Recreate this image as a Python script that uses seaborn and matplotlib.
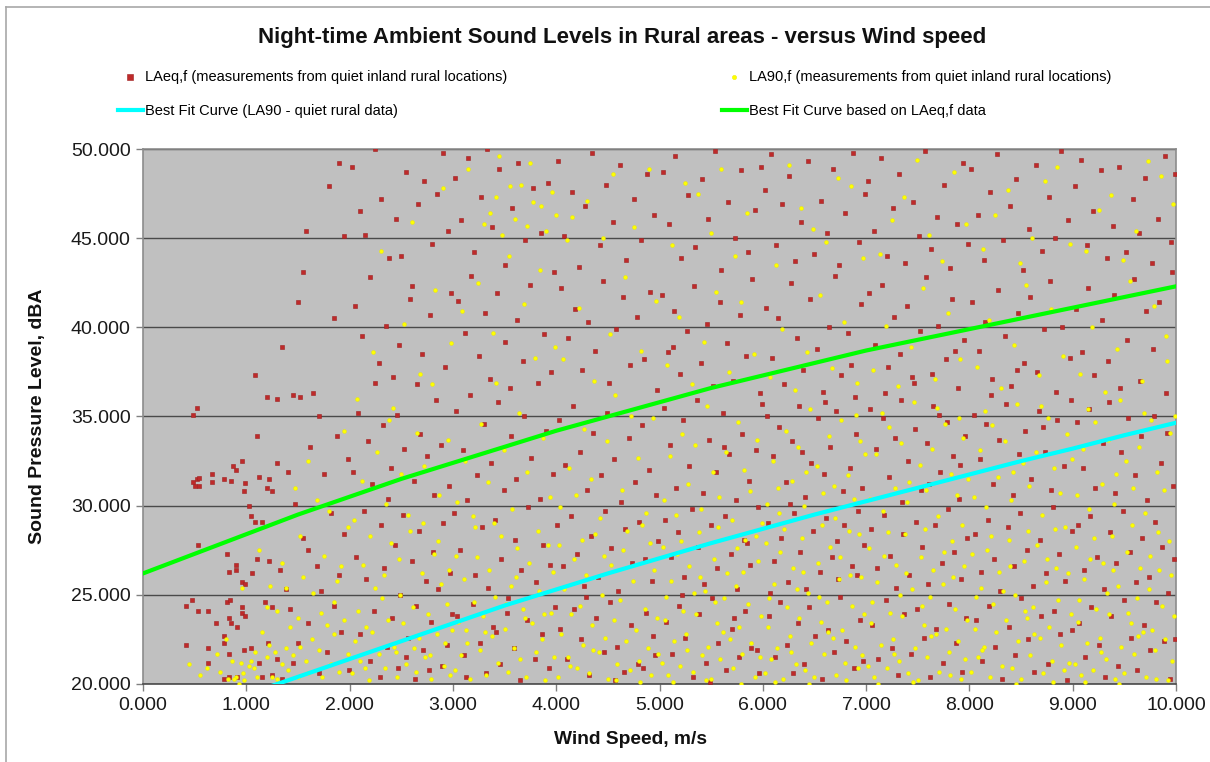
import matplotlib
matplotlib.use("Agg")
import matplotlib.pyplot as plt
from matplotlib.lines import Line2D
import seaborn as sns
import pandas as pd

# ---------------- data ----------------
title = "Night-time Ambient Sound Levels in Rural areas - versus Wind speed"
laeq_label = "LAeq,f (measurements from quiet inland rural locations)"
la90_label = "LA90,f (measurements from quiet inland rural locations)"
cyan_label = "Best Fit Curve (LA90 - quiet rural data)"
green_label = "Best Fit Curve based on LAeq,f data"
x_label = "Wind Speed, m/s"
y_label = "Sound Pressure Level, dBA"

x_ticks = [0, 1, 2, 3, 4, 5, 6, 7, 8, 9, 10]
y_ticks = [20, 25, 30, 35, 40, 45, 50]

# Best fit curves
green_wind = [0, 0.5, 1, 1.5, 2, 2.5, 3, 3.5, 4, 4.5, 5, 5.5, 6, 6.5, 7, 7.5, 8, 8.5, 9, 9.5, 10]
green_level = [26.2, 27.3, 28.4, 29.5, 30.5, 31.5, 32.4, 33.3, 34.2, 35.0, 35.8, 36.6, 37.3, 38.0,
               38.7, 39.3, 39.9, 40.5, 41.1, 41.7, 42.3]
cyan_wind = [1.0, 1.5, 2, 2.5, 3, 3.5, 4, 4.5, 5, 5.5, 6, 6.5, 7, 7.5, 8, 8.5, 9, 9.5, 10]
cyan_level = [19.4, 20.4, 21.4, 22.4, 23.4, 24.4, 25.3, 26.2, 27.05, 27.9, 28.7, 29.5, 30.25, 31.0,
              31.75, 32.5, 33.2, 33.95, 34.65]

# LAeq,f measurements (wind, level)
laeq_points = [
    (0.48, 35.1), (0.52, 35.5), (0.48, 31.3), (0.52, 31.5), (0.54, 31.55), (0.5, 31.1), (0.54, 31.1),
    (0.67, 31.8), (0.67, 31.3), (0.78, 31.5), (0.85, 31.4), (0.87, 32.2), (0.9, 32.0), (0.96, 32.5),
    (0.99, 31.25), (0.98, 30.8), (0.53, 27.8), (0.81, 27.3), (0.83, 26.3), (0.9, 26.7), (0.9, 26.4),
    (0.96, 25.7), (0.99, 25.6), (0.42, 24.4), (0.47, 24.7), (0.53, 24.1), (0.63, 24.1), (0.71, 23.4),
    (0.81, 24.6), (0.84, 24.7), (0.83, 23.7), (0.85, 23.4), (0.91, 23.2), (0.96, 24.3), (0.96, 24.0),
    (0.99, 23.8), (0.42, 22.2), (0.63, 22.0), (0.78, 22.7), (0.78, 22.3), (0.83, 21.7), (0.63, 21.2),
    (0.78, 20.3), (0.83, 20.4), (0.91, 20.4), (0.98, 21.9),
    (1.03, 30.0), (1.05, 29.4), (1.08, 29.1), (1.1, 33.9), (1.12, 31.6), (1.15, 29.1), (1.2, 31.0),
    (1.22, 31.5), (1.25, 30.8), (1.3, 32.4), (1.08, 37.3), (1.2, 36.1), (1.3, 36.0), (1.35, 38.9),
    (1.5, 41.4), (1.55, 43.1), (1.58, 45.4), (1.45, 36.2), (1.52, 36.1), (1.7, 35.0), (1.75, 31.8),
    (1.8, 47.9), (1.9, 49.2), (1.95, 45.1), (1.85, 40.5), (1.65, 36.3), (1.4, 31.9), (1.47, 30.1),
    (1.55, 28.2), (1.6, 27.5), (1.68, 26.6), (1.72, 25.2), (1.1, 27.0), (1.22, 26.9), (1.06, 26.2),
    (1.33, 26.4), (1.38, 25.3), (1.42, 24.2), (1.25, 24.3), (1.18, 24.6), (1.05, 22.0), (1.12, 21.2),
    (1.21, 22.3), (1.3, 21.4), (1.45, 21.2), (1.5, 22.3), (1.6, 23.4), (1.7, 20.6), (1.78, 21.8),
    (1.85, 24.4), (1.9, 26.1), (1.95, 28.4), (1.82, 29.6), (1.98, 32.6), (1.62, 33.3), (1.88, 33.9),
    (1.35, 20.3), (1.25, 20.5), (1.15, 20.4), (1.92, 22.9), (1.99, 20.8),
    (2.02, 49.0), (2.1, 46.5), (2.15, 45.2), (2.25, 50.0), (2.3, 47.2), (2.38, 43.9), (2.45, 46.1),
    (2.5, 44.0), (2.55, 48.7), (2.6, 42.3), (2.66, 46.9), (2.72, 48.2), (2.8, 44.7), (2.85, 47.5),
    (2.9, 49.8), (2.95, 45.4), (2.05, 41.2), (2.12, 39.5), (2.2, 42.8), (2.28, 38.0), (2.35, 40.1),
    (2.42, 37.2), (2.48, 39.0), (2.58, 41.6), (2.65, 36.8), (2.7, 38.5), (2.78, 40.7), (2.84, 35.9),
    (2.92, 37.8), (2.98, 41.9), (2.08, 35.2), (2.18, 33.6), (2.25, 36.9), (2.32, 34.5), (2.4, 32.1),
    (2.46, 35.1), (2.53, 33.2), (2.62, 31.4), (2.68, 34.0), (2.75, 32.8), (2.82, 30.6), (2.88, 33.4),
    (2.96, 31.1), (2.03, 31.9), (2.14, 29.7), (2.22, 31.2), (2.3, 28.9), (2.37, 30.4), (2.44, 27.8),
    (2.52, 29.5), (2.6, 26.9), (2.67, 28.6), (2.74, 25.8), (2.81, 27.4), (2.9, 29.0), (2.97, 26.2),
    (2.06, 27.1), (2.16, 25.9), (2.24, 24.1), (2.33, 26.5), (2.41, 23.7), (2.49, 25.0), (2.57, 22.6),
    (2.64, 24.4), (2.71, 21.9), (2.79, 23.5), (2.86, 25.3), (2.94, 22.2), (2.1, 22.8), (2.2, 21.3),
    (2.29, 20.4), (2.36, 22.1), (2.47, 20.9), (2.55, 21.5), (2.63, 20.3), (2.77, 20.8), (2.89, 21.0),
    (2.99, 23.9),
    (3.02, 48.4), (3.08, 46.0), (3.15, 49.5), (3.2, 44.2), (3.27, 47.3), (3.33, 50.0), (3.38, 45.6),
    (3.45, 48.9), (3.5, 43.5), (3.57, 46.7), (3.63, 49.2), (3.7, 44.9), (3.78, 47.8), (3.85, 45.3),
    (3.92, 48.1), (3.98, 43.1), (3.05, 41.5), (3.12, 39.7), (3.18, 42.9), (3.25, 38.4), (3.31, 40.8),
    (3.36, 37.1), (3.43, 41.9), (3.5, 39.2), (3.55, 36.6), (3.62, 40.4), (3.68, 38.1), (3.75, 42.4),
    (3.82, 36.9), (3.88, 39.6), (3.95, 37.5), (3.03, 35.3), (3.1, 33.1), (3.17, 36.2), (3.23, 31.7),
    (3.3, 34.6), (3.37, 32.4), (3.44, 35.8), (3.49, 30.9), (3.56, 33.9), (3.61, 31.5), (3.69, 35.0),
    (3.76, 32.7), (3.84, 30.4), (3.9, 34.2), (3.97, 31.8), (3.01, 29.6), (3.07, 27.5), (3.14, 30.3),
    (3.21, 26.1), (3.28, 28.8), (3.34, 25.4), (3.41, 29.2), (3.47, 27.0), (3.53, 24.8), (3.6, 28.1),
    (3.66, 26.4), (3.73, 29.9), (3.8, 25.7), (3.87, 27.8), (3.94, 26.7), (3.04, 23.8), (3.11, 21.6),
    (3.19, 24.5), (3.26, 22.3), (3.32, 20.6), (3.39, 23.2), (3.46, 21.1), (3.52, 24.0), (3.59, 22.0),
    (3.65, 20.2), (3.72, 23.6), (3.79, 21.4), (3.86, 22.8), (3.93, 20.9), (3.99, 24.3), (3.13, 20.4),
    (3.42, 22.9),
    (4.02, 49.3), (4.08, 45.1), (4.15, 47.6), (4.22, 43.4), (4.28, 46.8), (4.35, 49.8), (4.42, 44.6),
    (4.48, 48.0), (4.55, 45.9), (4.62, 49.1), (4.68, 43.8), (4.75, 47.2), (4.82, 44.9), (4.88, 48.6),
    (4.95, 46.3), (4.05, 42.2), (4.11, 39.4), (4.18, 41.0), (4.25, 37.6), (4.31, 40.3), (4.38, 38.7),
    (4.45, 42.6), (4.51, 36.9), (4.58, 39.9), (4.65, 41.7), (4.71, 37.9), (4.78, 40.6), (4.85, 38.2),
    (4.91, 42.0), (4.98, 36.5), (4.03, 34.8), (4.09, 32.3), (4.16, 35.6), (4.23, 33.0), (4.3, 30.9),
    (4.36, 34.1), (4.43, 31.7), (4.49, 35.2), (4.56, 32.6), (4.63, 30.2), (4.7, 33.8), (4.76, 31.3),
    (4.83, 34.5), (4.9, 32.0), (4.97, 30.6), (4.01, 28.9), (4.07, 26.6), (4.14, 29.4), (4.2, 27.3),
    (4.27, 25.5), (4.34, 28.3), (4.4, 26.0), (4.47, 29.7), (4.53, 27.6), (4.6, 25.2), (4.67, 28.7),
    (4.73, 26.8), (4.8, 29.1), (4.86, 27.0), (4.93, 25.8), (4.99, 28.0), (4.04, 23.1), (4.1, 21.4),
    (4.17, 24.2), (4.24, 22.5), (4.32, 20.5), (4.39, 23.7), (4.46, 21.8), (4.52, 24.6), (4.59, 22.1),
    (4.66, 20.7), (4.72, 23.3), (4.79, 21.1), (4.87, 24.0), (4.94, 22.7), (4.29, 24.9), (4.57, 20.2),
    (4.84, 20.9), (4.96, 21.6),
    (5.03, 48.7), (5.09, 45.8), (5.15, 49.6), (5.21, 43.9), (5.28, 47.4), (5.34, 44.5), (5.41, 48.3),
    (5.47, 46.1), (5.54, 49.9), (5.6, 43.2), (5.66, 47.0), (5.73, 45.0), (5.79, 48.8), (5.86, 44.2),
    (5.92, 46.6), (5.98, 49.0), (5.02, 41.8), (5.08, 38.6), (5.14, 40.9), (5.2, 37.4), (5.27, 39.8),
    (5.33, 42.3), (5.4, 38.0), (5.46, 40.2), (5.52, 36.7), (5.59, 41.4), (5.65, 39.1), (5.71, 37.0),
    (5.78, 40.7), (5.84, 38.4), (5.9, 42.7), (5.97, 36.3), (5.04, 35.5), (5.1, 33.4), (5.16, 31.0),
    (5.23, 34.8), (5.29, 32.2), (5.36, 35.9), (5.42, 30.7), (5.48, 33.7), (5.55, 31.9), (5.61, 35.2),
    (5.67, 32.9), (5.74, 30.3), (5.8, 34.0), (5.87, 31.4), (5.93, 33.1), (5.99, 35.7), (5.05, 29.2),
    (5.11, 27.1), (5.18, 28.5), (5.24, 26.0), (5.31, 29.8), (5.37, 27.7), (5.43, 25.6), (5.5, 28.9),
    (5.56, 26.5), (5.63, 29.4), (5.69, 27.3), (5.75, 25.3), (5.82, 28.1), (5.88, 26.7), (5.95, 29.9),
    (5.06, 23.5), (5.12, 21.7), (5.19, 24.4), (5.25, 22.6), (5.32, 20.4), (5.38, 23.9), (5.45, 21.2),
    (5.51, 24.8), (5.57, 22.3), (5.64, 20.8), (5.7, 23.1), (5.77, 21.5), (5.83, 24.1), (5.89, 22.0),
    (5.96, 20.6), (5.22, 25.0), (5.49, 20.1), (5.72, 23.7), (5.94, 21.9), (5.13, 38.9), (5.62, 33.3),
    (5.85, 27.9),
    (6.02, 47.7), (6.08, 49.7), (6.13, 44.6), (6.19, 46.9), (6.25, 48.5), (6.31, 43.7), (6.37, 45.9),
    (6.44, 49.3), (6.5, 44.1), (6.56, 47.1), (6.62, 45.3), (6.68, 48.9), (6.74, 43.5), (6.8, 46.4),
    (6.87, 49.8), (6.93, 44.8), (6.99, 47.5), (6.03, 41.1), (6.09, 38.3), (6.15, 40.5), (6.21, 36.8),
    (6.27, 42.5), (6.33, 39.4), (6.39, 37.6), (6.46, 41.6), (6.52, 38.8), (6.58, 36.4), (6.64, 40.0),
    (6.7, 42.9), (6.76, 37.3), (6.82, 39.7), (6.89, 36.1), (6.95, 41.3), (6.04, 35.0), (6.1, 32.8),
    (6.16, 34.4), (6.22, 31.3), (6.28, 33.6), (6.35, 35.6), (6.41, 30.5), (6.47, 32.4), (6.53, 34.9),
    (6.59, 31.8), (6.65, 33.3), (6.71, 35.3), (6.78, 30.8), (6.84, 32.1), (6.9, 34.0), (6.96, 31.0),
    (6.05, 29.0), (6.11, 26.9), (6.18, 28.2), (6.24, 25.7), (6.3, 29.6), (6.36, 27.4), (6.42, 25.3),
    (6.49, 28.6), (6.55, 26.3), (6.61, 29.3), (6.67, 27.1), (6.73, 25.9), (6.79, 28.9), (6.86, 26.6),
    (6.92, 29.7), (6.98, 27.8), (6.06, 23.8), (6.12, 21.5), (6.17, 24.6), (6.23, 22.2), (6.29, 20.6),
    (6.34, 23.4), (6.4, 21.1), (6.45, 24.3), (6.51, 22.7), (6.57, 20.3), (6.63, 23.0), (6.69, 21.8),
    (6.75, 24.9), (6.81, 22.4), (6.88, 20.9), (6.94, 23.6), (6.97, 21.3), (6.07, 25.1), (6.38, 33.0),
    (6.6, 35.8), (6.85, 37.9), (6.26, 30.1), (6.72, 28.0), (6.91, 26.1),
    (7.02, 48.2), (7.08, 45.4), (7.14, 49.5), (7.2, 44.0), (7.26, 46.7), (7.32, 48.6), (7.38, 43.6),
    (7.45, 47.0), (7.51, 45.1), (7.57, 49.9), (7.63, 44.4), (7.69, 46.2), (7.75, 48.0), (7.81, 43.3),
    (7.88, 45.8), (7.94, 49.2), (7.99, 44.7), (7.03, 41.9), (7.09, 39.0), (7.15, 42.4), (7.21, 37.8),
    (7.27, 40.6), (7.33, 38.5), (7.4, 41.2), (7.46, 36.9), (7.52, 39.8), (7.58, 42.8), (7.64, 37.4),
    (7.7, 40.1), (7.77, 38.2), (7.83, 41.6), (7.89, 36.6), (7.95, 39.3), (7.04, 35.4), (7.1, 33.2),
    (7.16, 34.9), (7.22, 31.6), (7.28, 33.8), (7.34, 35.9), (7.41, 32.5), (7.47, 34.3), (7.53, 30.9),
    (7.59, 33.5), (7.65, 35.6), (7.72, 31.9), (7.78, 34.7), (7.84, 32.8), (7.9, 30.4), (7.96, 33.9),
    (7.05, 28.7), (7.11, 26.5), (7.17, 29.5), (7.23, 27.2), (7.29, 25.4), (7.36, 28.4), (7.42, 26.1),
    (7.48, 29.1), (7.54, 27.7), (7.6, 25.6), (7.67, 28.9), (7.73, 26.8), (7.79, 29.8), (7.85, 27.4),
    (7.92, 25.9), (7.98, 28.2), (7.06, 23.3), (7.12, 21.4), (7.19, 24.7), (7.25, 22.0), (7.31, 20.5),
    (7.37, 23.9), (7.43, 21.7), (7.49, 24.2), (7.56, 22.6), (7.62, 20.4), (7.68, 23.1), (7.74, 21.2),
    (7.8, 24.5), (7.87, 22.3), (7.93, 20.7), (7.97, 23.7), (7.18, 36.3), (7.44, 37.2), (7.71, 35.1),
    (7.86, 38.7), (7.35, 30.2), (7.61, 31.2), (7.91, 32.3),
    (8.02, 48.9), (8.08, 46.3), (8.14, 43.8), (8.2, 47.6), (8.27, 49.7), (8.33, 44.9), (8.39, 46.8),
    (8.45, 48.3), (8.52, 43.2), (8.58, 45.5), (8.64, 49.1), (8.7, 44.3), (8.77, 47.3), (8.83, 45.0),
    (8.89, 49.9), (8.95, 46.0), (8.03, 41.4), (8.09, 38.7), (8.15, 40.3), (8.22, 37.1), (8.28, 42.1),
    (8.34, 39.5), (8.4, 36.7), (8.47, 40.8), (8.53, 38.0), (8.59, 41.7), (8.65, 37.5), (8.72, 39.9),
    (8.78, 42.6), (8.84, 36.4), (8.9, 40.0), (8.97, 38.3), (8.04, 35.1), (8.1, 32.6), (8.16, 34.6),
    (8.23, 31.2), (8.29, 33.7), (8.35, 35.7), (8.42, 30.6), (8.48, 32.9), (8.54, 34.2), (8.6, 31.5),
    (8.67, 35.3), (8.73, 33.0), (8.79, 30.9), (8.85, 34.8), (8.92, 32.2), (8.98, 35.9), (8.05, 28.4),
    (8.11, 26.3), (8.18, 29.2), (8.24, 27.0), (8.3, 25.2), (8.37, 28.8), (8.43, 26.6), (8.49, 29.6),
    (8.56, 27.5), (8.62, 25.5), (8.68, 28.1), (8.74, 26.2), (8.81, 29.9), (8.87, 27.3), (8.93, 25.8),
    (8.99, 28.6), (8.06, 23.6), (8.12, 21.3), (8.19, 24.4), (8.25, 22.1), (8.32, 20.3), (8.38, 23.2),
    (8.44, 21.6), (8.5, 24.8), (8.57, 22.5), (8.63, 20.7), (8.69, 23.8), (8.76, 21.1), (8.82, 24.1),
    (8.88, 22.8), (8.94, 20.2), (8.99, 23.0), (8.21, 36.2), (8.46, 37.6), (8.71, 34.4),
    (9.02, 47.9), (9.08, 49.4), (9.14, 44.6), (9.2, 46.5), (9.27, 48.8), (9.33, 43.9), (9.39, 45.7),
    (9.45, 49.0), (9.52, 44.2), (9.58, 47.2), (9.64, 45.3), (9.7, 48.4), (9.77, 43.6), (9.83, 46.1),
    (9.89, 49.6), (9.95, 44.8), (9.99, 48.6), (9.03, 41.0), (9.09, 38.6), (9.15, 42.2), (9.21, 37.3),
    (9.28, 40.4), (9.34, 38.1), (9.4, 41.8), (9.46, 36.6), (9.53, 39.3), (9.59, 42.7), (9.65, 37.0),
    (9.71, 40.9), (9.78, 38.8), (9.84, 41.4), (9.9, 36.3), (9.96, 43.1), (9.04, 34.7), (9.1, 32.1),
    (9.16, 35.4), (9.22, 31.0), (9.29, 33.5), (9.35, 35.8), (9.41, 30.7), (9.47, 33.0), (9.54, 34.9),
    (9.6, 31.7), (9.66, 33.9), (9.72, 30.3), (9.79, 35.0), (9.85, 32.4), (9.91, 34.1), (9.97, 31.1),
    (9.05, 28.9), (9.11, 26.4), (9.17, 29.4), (9.24, 27.1), (9.3, 25.3), (9.36, 28.5), (9.42, 26.8),
    (9.49, 29.7), (9.55, 27.4), (9.61, 25.7), (9.67, 28.2), (9.74, 26.0), (9.8, 29.1), (9.86, 27.7),
    (9.92, 25.1), (9.98, 27.0), (9.06, 23.4), (9.12, 21.5), (9.18, 24.3), (9.25, 22.2), (9.31, 20.4),
    (9.37, 23.8), (9.44, 21.0), (9.5, 24.7), (9.56, 22.6), (9.62, 20.8), (9.69, 23.3), (9.75, 21.9),
    (9.81, 24.6), (9.88, 22.4), (9.94, 20.3), (9.99, 22.5),
]

# LA90,f measurements (wind, level)
la90_points = [
    (0.45, 21.1), (0.62, 20.9), (0.72, 21.7), (0.8, 22.5), (0.82, 20.3), (0.86, 21.3), (0.9, 20.4),
    (0.93, 20.0), (0.95, 21.2), (0.97, 20.6), (0.98, 20.2), (0.96, 25.4), (0.55, 20.5), (0.88, 20.3),
    (0.75, 20.7),
    (1.03, 21.0), (1.05, 21.3), (1.07, 20.9), (1.08, 21.8), (1.1, 20.4), (1.2, 21.5), (1.22, 22.2),
    (1.25, 20.4), (1.28, 21.8), (1.3, 20.3), (1.35, 21.1), (1.38, 22.0), (1.4, 20.8), (1.45, 21.6),
    (1.5, 20.4), (1.52, 22.1), (1.58, 21.3), (1.6, 20.6), (1.64, 22.5), (1.7, 21.9), (1.73, 20.4),
    (1.78, 23.3), (1.82, 21.1), (1.85, 22.8), (1.9, 20.7), (1.95, 23.6), (1.98, 21.7), (1.2, 24.3),
    (1.23, 25.5), (1.3, 24.1), (1.35, 26.8), (1.12, 27.5), (1.38, 25.4), (1.47, 31.0), (1.52, 28.3),
    (1.55, 26.0), (1.65, 25.1), (1.75, 27.2), (1.85, 24.6), (1.92, 26.6), (1.6, 32.5), (1.8, 29.7),
    (1.95, 34.2), (1.68, 30.3), (1.42, 23.2), (1.15, 22.9), (1.5, 23.7), (1.72, 24.0), (1.88, 25.8),
    (1.98, 28.8),
    (2.02, 20.6), (2.05, 22.4), (2.08, 24.1), (2.1, 21.3), (2.13, 26.7), (2.16, 23.2), (2.19, 20.2),
    (2.22, 22.9), (2.25, 25.4), (2.28, 21.7), (2.31, 24.8), (2.34, 20.9), (2.37, 23.6), (2.4, 27.9),
    (2.43, 22.1), (2.46, 20.4), (2.49, 25.0), (2.52, 23.4), (2.55, 21.1), (2.58, 28.6), (2.61, 24.3),
    (2.64, 20.7), (2.67, 22.6), (2.7, 26.2), (2.73, 21.5), (2.76, 23.9), (2.79, 20.3), (2.82, 27.3),
    (2.85, 22.8), (2.88, 25.6), (2.91, 21.0), (2.94, 24.5), (2.97, 20.5), (2.99, 23.0), (2.04, 29.2),
    (2.12, 31.4), (2.2, 28.3), (2.27, 33.0), (2.35, 30.1), (2.42, 35.5), (2.5, 31.8), (2.57, 29.5),
    (2.65, 34.1), (2.72, 32.2), (2.8, 36.8), (2.87, 30.6), (2.95, 33.7), (2.07, 36.0), (2.23, 38.6),
    (2.38, 34.8), (2.53, 40.2), (2.68, 37.4), (2.83, 42.1), (2.98, 39.1), (2.3, 44.3), (2.6, 45.9),
    (2.9, 47.8), (2.45, 21.8), (2.62, 22.0), (2.78, 21.6), (2.92, 22.3), (2.15, 20.9), (2.33, 26.1),
    (2.48, 27.0), (2.71, 29.0), (2.86, 28.0), (2.96, 26.4),
    (3.02, 20.8), (3.05, 23.5), (3.08, 21.6), (3.11, 25.9), (3.14, 22.3), (3.17, 20.3), (3.2, 24.6),
    (3.23, 27.1), (3.26, 21.9), (3.29, 23.8), (3.32, 20.5), (3.35, 26.4), (3.38, 22.7), (3.41, 24.9),
    (3.44, 21.2), (3.47, 28.3), (3.5, 23.1), (3.53, 20.7), (3.56, 25.5), (3.59, 22.0), (3.62, 27.6),
    (3.65, 21.4), (3.68, 24.2), (3.71, 20.4), (3.74, 26.8), (3.77, 23.4), (3.8, 21.8), (3.83, 25.2),
    (3.86, 22.5), (3.89, 20.2), (3.92, 27.8), (3.95, 24.0), (3.98, 21.5), (3.04, 30.2), (3.12, 32.5),
    (3.19, 29.4), (3.27, 34.6), (3.34, 31.3), (3.42, 36.9), (3.49, 33.1), (3.57, 29.8), (3.64, 35.2),
    (3.72, 31.9), (3.79, 38.3), (3.87, 33.8), (3.94, 30.5), (3.09, 40.9), (3.24, 42.5), (3.39, 39.7),
    (3.54, 44.0), (3.69, 41.3), (3.84, 43.2), (3.99, 38.9), (3.3, 45.8), (3.36, 46.4), (3.42, 47.3),
    (3.48, 45.2), (3.55, 47.9), (3.6, 46.1), (3.66, 48.0), (3.72, 45.7), (3.78, 47.0), (3.85, 46.8),
    (3.9, 45.4), (3.96, 47.6), (4.0, 46.3), (3.15, 48.9), (3.45, 49.6), (3.75, 49.2), (3.03, 27.2),
    (3.21, 28.8), (3.4, 29.0), (3.61, 26.0), (3.82, 28.6), (3.97, 26.3), (3.13, 23.0), (3.31, 22.9),
    (3.51, 24.5), (3.7, 23.7), (3.88, 23.9),
    (4.02, 20.4), (4.05, 22.8), (4.08, 25.3), (4.11, 21.5), (4.14, 23.9), (4.17, 27.0), (4.2, 20.9),
    (4.23, 24.4), (4.26, 22.2), (4.29, 26.1), (4.32, 20.6), (4.35, 23.3), (4.38, 28.4), (4.41, 21.8),
    (4.44, 25.0), (4.47, 22.6), (4.5, 20.3), (4.53, 26.7), (4.56, 23.6), (4.59, 21.1), (4.62, 24.7),
    (4.65, 27.5), (4.68, 22.4), (4.71, 20.8), (4.74, 25.8), (4.77, 23.0), (4.8, 21.3), (4.83, 28.9),
    (4.86, 24.2), (4.89, 22.0), (4.92, 20.5), (4.95, 26.4), (4.98, 23.7), (4.04, 29.9), (4.12, 32.1),
    (4.19, 30.6), (4.27, 34.3), (4.34, 31.5), (4.42, 29.3), (4.49, 33.6), (4.57, 36.2), (4.64, 30.9),
    (4.72, 35.0), (4.79, 32.7), (4.87, 29.6), (4.94, 34.9), (4.07, 38.2), (4.22, 41.1), (4.37, 37.0),
    (4.52, 39.6), (4.67, 42.8), (4.82, 38.7), (4.97, 41.5), (4.1, 44.9), (4.3, 47.1), (4.55, 48.6),
    (4.75, 45.6), (4.9, 48.9), (4.15, 46.2), (4.45, 45.0), (4.03, 27.8), (4.25, 28.1), (4.46, 27.2),
    (4.69, 28.6), (4.91, 27.9), (4.13, 21.0), (4.36, 21.9), (4.58, 20.2), (4.81, 20.1), (4.99, 21.7),
    (5.02, 21.2), (5.05, 23.6), (5.08, 20.5), (5.11, 25.8), (5.14, 22.4), (5.17, 27.3), (5.2, 21.0),
    (5.23, 24.1), (5.26, 22.8), (5.29, 26.6), (5.32, 20.7), (5.35, 23.9), (5.38, 28.5), (5.41, 21.6),
    (5.44, 25.2), (5.47, 22.1), (5.5, 20.3), (5.53, 27.0), (5.56, 23.4), (5.59, 21.4), (5.62, 24.8),
    (5.65, 26.2), (5.68, 22.5), (5.71, 20.9), (5.74, 25.5), (5.77, 23.2), (5.8, 21.7), (5.83, 28.1),
    (5.86, 24.5), (5.89, 22.3), (5.92, 20.4), (5.95, 26.9), (5.98, 23.8), (5.04, 30.3), (5.1, 32.8),
    (5.16, 29.5), (5.22, 34.0), (5.28, 31.2), (5.34, 33.4), (5.4, 29.8), (5.46, 35.6), (5.52, 31.9),
    (5.58, 30.5), (5.64, 33.0), (5.7, 29.2), (5.76, 34.7), (5.82, 32.0), (5.88, 30.8), (5.94, 33.7),
    (5.99, 29.0), (5.07, 37.9), (5.19, 40.6), (5.31, 36.8), (5.43, 39.2), (5.55, 42.0), (5.67, 37.5),
    (5.79, 41.4), (5.91, 38.5), (5.12, 44.6), (5.37, 47.5), (5.6, 48.9), (5.85, 46.4), (5.25, 48.1),
    (5.5, 45.3), (5.73, 44.0), (5.03, 27.7), (5.21, 28.0), (5.39, 26.0), (5.57, 28.8), (5.75, 27.6),
    (5.93, 28.3), (5.13, 20.1), (5.27, 21.9), (5.45, 20.2), (5.61, 22.9), (5.79, 20.0), (5.97, 21.5),
    (5.06, 24.9), (5.33, 25.1), (5.54, 24.6), (5.81, 26.3),
    (6.02, 20.6), (6.05, 23.2), (6.08, 21.4), (6.11, 25.6), (6.14, 22.0), (6.17, 27.4), (6.2, 20.3),
    (6.23, 24.3), (6.26, 22.7), (6.29, 26.5), (6.32, 21.1), (6.35, 23.7), (6.38, 28.2), (6.41, 20.8),
    (6.44, 25.1), (6.47, 22.3), (6.5, 20.4), (6.53, 26.8), (6.56, 23.5), (6.59, 21.7), (6.62, 24.6),
    (6.65, 27.7), (6.68, 22.6), (6.71, 20.5), (6.74, 25.9), (6.77, 23.0), (6.8, 21.2), (6.83, 28.6),
    (6.86, 24.4), (6.89, 22.1), (6.92, 20.9), (6.95, 26.0), (6.98, 23.9), (6.04, 30.1), (6.1, 32.5),
    (6.16, 29.6), (6.22, 34.2), (6.28, 31.4), (6.34, 33.3), (6.4, 30.0), (6.46, 35.4), (6.52, 32.2),
    (6.58, 30.7), (6.64, 33.9), (6.7, 29.3), (6.76, 34.8), (6.82, 31.7), (6.88, 30.4), (6.94, 33.6),
    (6.99, 32.9), (6.07, 37.2), (6.19, 39.9), (6.31, 36.5), (6.43, 38.6), (6.55, 41.8), (6.67, 37.7),
    (6.79, 40.3), (6.91, 36.9), (6.13, 43.5), (6.37, 46.7), (6.61, 44.8), (6.85, 47.9), (6.25, 49.1),
    (6.49, 45.5), (6.73, 48.4), (6.97, 43.9), (6.03, 27.9), (6.21, 28.7), (6.39, 26.3), (6.57, 28.9),
    (6.75, 27.1), (6.93, 28.4), (6.12, 20.1), (6.27, 21.8), (6.45, 20.0), (6.63, 22.9), (6.81, 20.2),
    (6.96, 21.6), (6.06, 24.8), (6.33, 25.3), (6.54, 24.9), (6.84, 26.1), (6.15, 31.0), (6.42, 31.9),
    (6.69, 31.1), (6.9, 35.1),
    (7.02, 21.0), (7.05, 23.4), (7.08, 20.4), (7.11, 25.7), (7.14, 22.2), (7.17, 27.2), (7.2, 20.9),
    (7.23, 24.0), (7.26, 22.5), (7.29, 26.7), (7.32, 21.3), (7.35, 23.8), (7.38, 28.4), (7.41, 20.6),
    (7.44, 25.3), (7.47, 22.0), (7.5, 20.2), (7.53, 27.1), (7.56, 23.3), (7.59, 21.5), (7.62, 24.9),
    (7.65, 26.4), (7.68, 22.8), (7.71, 20.7), (7.74, 25.6), (7.77, 23.1), (7.8, 21.8), (7.83, 28.0),
    (7.86, 24.2), (7.89, 22.4), (7.92, 20.3), (7.95, 26.6), (7.98, 23.6), (7.04, 30.4), (7.1, 32.9),
    (7.16, 29.7), (7.22, 34.4), (7.28, 31.0), (7.34, 33.5), (7.4, 30.2), (7.46, 35.8), (7.52, 32.3),
    (7.58, 30.9), (7.64, 33.2), (7.7, 29.4), (7.76, 34.6), (7.82, 31.8), (7.88, 30.6), (7.94, 33.8),
    (7.99, 31.5), (7.07, 37.6), (7.19, 40.1), (7.31, 36.7), (7.43, 38.9), (7.55, 42.2), (7.67, 37.1),
    (7.79, 40.8), (7.91, 38.2), (7.13, 44.1), (7.37, 47.3), (7.61, 45.2), (7.85, 48.7), (7.25, 46.0),
    (7.49, 49.4), (7.73, 43.7), (7.97, 45.8), (7.03, 27.6), (7.21, 28.5), (7.39, 26.2), (7.57, 28.7),
    (7.75, 27.4), (7.93, 28.9), (7.12, 20.0), (7.27, 21.7), (7.45, 20.1), (7.63, 22.7), (7.81, 20.5),
    (7.96, 21.4), (7.06, 24.6), (7.33, 25.0), (7.54, 24.4), (7.84, 26.0), (7.15, 35.2), (7.42, 31.3),
    (7.69, 35.5), (7.9, 34.9),
    (8.02, 20.7), (8.05, 23.1), (8.08, 21.5), (8.11, 25.4), (8.14, 22.1), (8.17, 27.5), (8.2, 20.4),
    (8.23, 24.5), (8.26, 22.9), (8.29, 26.3), (8.32, 21.0), (8.35, 23.6), (8.38, 28.1), (8.41, 20.9),
    (8.44, 25.0), (8.47, 22.4), (8.5, 20.3), (8.53, 26.9), (8.56, 23.7), (8.59, 21.6), (8.62, 24.3),
    (8.65, 27.8), (8.68, 22.6), (8.71, 20.6), (8.74, 25.7), (8.77, 23.2), (8.8, 21.3), (8.83, 28.7),
    (8.86, 24.7), (8.89, 22.2), (8.92, 20.8), (8.95, 26.2), (8.98, 23.9), (8.04, 30.5), (8.1, 33.1),
    (8.16, 29.9), (8.22, 34.5), (8.28, 31.6), (8.34, 33.6), (8.4, 30.3), (8.46, 35.7), (8.52, 32.4),
    (8.58, 31.1), (8.64, 33.0), (8.7, 29.5), (8.76, 34.9), (8.82, 32.1), (8.88, 30.7), (8.94, 34.0),
    (8.99, 32.6), (8.07, 37.8), (8.19, 40.4), (8.31, 36.6), (8.43, 39.0), (8.55, 42.4), (8.67, 37.3),
    (8.79, 41.0), (8.91, 38.4), (8.13, 44.4), (8.37, 47.7), (8.61, 45.0), (8.85, 49.0), (8.25, 46.3),
    (8.49, 43.6), (8.73, 48.2), (8.97, 44.7), (8.03, 27.3), (8.21, 28.3), (8.39, 26.6), (8.57, 28.6),
    (8.75, 27.0), (8.93, 28.8), (8.12, 21.9), (8.45, 20.0), (8.63, 22.8), (8.81, 20.1), (8.96, 21.2),
    (8.06, 24.9), (8.33, 25.2), (8.54, 24.1), (8.84, 26.5), (8.15, 35.3), (8.42, 31.9), (8.69, 35.6),
    (9.02, 21.1), (9.05, 23.5), (9.08, 20.5), (9.11, 25.9), (9.14, 22.3), (9.17, 27.0), (9.2, 20.8),
    (9.23, 24.2), (9.26, 22.6), (9.29, 26.8), (9.32, 21.4), (9.35, 23.9), (9.38, 28.3), (9.41, 20.3),
    (9.44, 25.5), (9.47, 22.1), (9.5, 20.6), (9.53, 27.4), (9.56, 23.4), (9.59, 21.7), (9.62, 24.8),
    (9.65, 26.5), (9.68, 22.9), (9.71, 20.4), (9.74, 25.3), (9.77, 23.0), (9.8, 21.9), (9.83, 28.5),
    (9.86, 24.4), (9.89, 22.5), (9.92, 20.2), (9.95, 26.1), (9.98, 23.8), (9.04, 30.6), (9.1, 33.2),
    (9.16, 29.8), (9.22, 34.7), (9.28, 31.2), (9.34, 33.7), (9.4, 30.1), (9.46, 35.9), (9.52, 32.5),
    (9.58, 31.0), (9.64, 33.3), (9.7, 29.6), (9.76, 34.8), (9.82, 31.9), (9.88, 30.9), (9.94, 34.1),
    (9.99, 35.0), (9.07, 37.4), (9.19, 40.0), (9.31, 36.4), (9.43, 38.8), (9.55, 42.6), (9.67, 37.0),
    (9.79, 41.2), (9.91, 38.1), (9.13, 44.3), (9.37, 47.4), (9.61, 45.4), (9.85, 48.5), (9.25, 46.6),
    (9.49, 43.8), (9.73, 49.3), (9.97, 46.9), (9.03, 27.7), (9.21, 28.2), (9.39, 26.4), (9.57, 28.9),
    (9.75, 27.2), (9.93, 28.0), (9.12, 20.1), (9.27, 21.8), (9.45, 20.0), (9.63, 22.7), (9.81, 20.3),
    (9.96, 21.3), (9.06, 24.7), (9.33, 25.1), (9.54, 24.0), (9.84, 26.4), (9.15, 35.4), (9.42, 31.8),
    (9.69, 35.2), (9.9, 39.5),
]

# ---------------- figure ----------------
W, H = 1210, 762
fig = plt.figure(figsize=(W / 100, H / 100), dpi=100)
plt.rcParams['font.family'] = ['Liberation Sans', 'DejaVu Sans']

def fx(px):
    return px / W

def fy(py):
    return 1 - py / H

ax = fig.add_axes([fx(143), fy(684), fx(1176) - fx(143), fy(149) - fy(684)])
ax.set_facecolor('#C0C0C0')

laeq_df = pd.DataFrame(laeq_points, columns=['wind', 'level'])
la90_df = pd.DataFrame(la90_points, columns=['wind', 'level'])
green_df = pd.DataFrame({'wind': green_wind, 'level': green_level})
cyan_df = pd.DataFrame({'wind': cyan_wind, 'level': cyan_level})

sns.scatterplot(data=laeq_df, x='wind', y='level', ax=ax, marker='s', s=11,
                color='#BE2A2A', edgecolor='#9E2020', linewidth=0.4, label=laeq_label, zorder=3)
sns.scatterplot(data=la90_df, x='wind', y='level', ax=ax, marker='o', s=8,
                color='#FFFF00', edgecolor='#E8E800', linewidth=0.3, label=la90_label, zorder=4)
sns.lineplot(data=cyan_df, x='wind', y='level', ax=ax, color='#00FFFF', linewidth=3.0,
             label=cyan_label, zorder=5)
sns.lineplot(data=green_df, x='wind', y='level', ax=ax, color='#00FF00', linewidth=3.0,
             label=green_label, zorder=5)

ax.set_xlim(0, 10)
ax.set_ylim(20, 50)
ax.set_xticks(x_ticks)
ax.set_yticks(y_ticks)
ax.set_xticklabels([f"{v:.3f}" for v in x_ticks])
ax.set_yticklabels([f"{v:.3f}" for v in y_ticks])
ax.set_xlabel('')
ax.set_ylabel('')
ax.tick_params(axis='both', direction='out', length=5, width=1, color='#808080',
               labelsize=14, labelcolor='#1a1a1a', pad=4)
ax.yaxis.grid(True, color='#4a4a4a', linewidth=1.0)
ax.xaxis.grid(False)
ax.set_axisbelow(True)
for side in ['top', 'right', 'left']:
    ax.spines[side].set_color('#8c8c8c')
    ax.spines[side].set_linewidth(1.2)
ax.spines['bottom'].set_color('#4a4a4a')
ax.spines['bottom'].set_linewidth(1.2)

# legends (two columns, as in the reference)
handles, labels = ax.get_legend_handles_labels()
if ax.get_legend():
    ax.get_legend().remove()
hmap = dict(zip(labels, handles))
leg_kw = dict(frameon=False, fontsize=10.5, handlelength=1.7, handletextpad=0.15,
              labelspacing=1.38, borderpad=0, borderaxespad=0, markerscale=1.1)
leg1 = fig.legend([hmap[laeq_label], hmap[cyan_label]], [laeq_label, cyan_label],
                  loc='center left', bbox_to_anchor=(fx(118), fy(94)), **leg_kw)
leg2 = fig.legend([hmap[la90_label], hmap[green_label]], [la90_label, green_label],
                  loc='center left', bbox_to_anchor=(fx(722), fy(94)), **leg_kw)

fig.text(fx(622), fy(37), title, ha='center', va='center', fontsize=16, fontweight='bold',
         color='#111111')
fig.text(fx(631), fy(740), x_label, ha='center', va='center', fontsize=13.8, fontweight='bold',
         color='#111111')
fig.text(fx(38), fy(416), y_label, ha='center', va='center', rotation=90, fontsize=14,
         fontweight='bold', color='#111111')

# outer chart border
fig.add_artist(Line2D([fx(6), fx(6)], [0, fy(7)], transform=fig.transFigure, color='#A8A8A8', lw=1.2))
fig.add_artist(Line2D([fx(6), 1], [fy(7), fy(7)], transform=fig.transFigure, color='#A8A8A8', lw=1.2))

fig.savefig('out.png', dpi=100, facecolor='white')
